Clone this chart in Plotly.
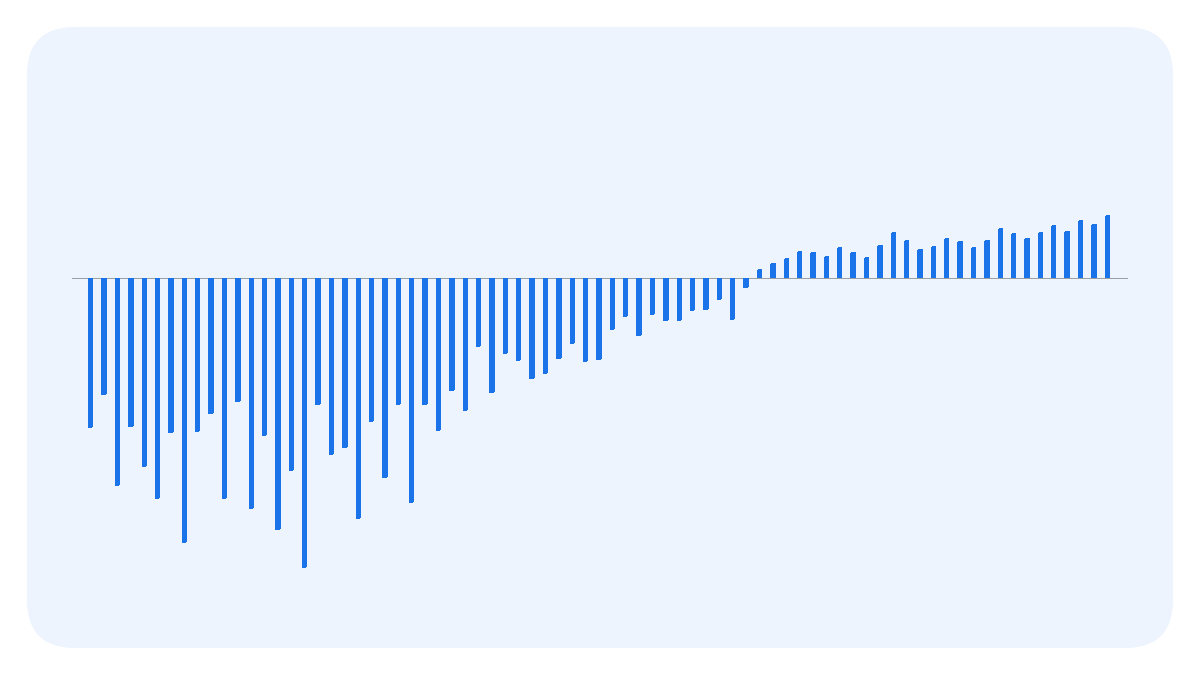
import plotly.graph_objects as go

# bar values (in baseline-relative units)
depths = [150, 117, 208, 149, 189, 221, 155, 265, 154, 136,
          221, 124, 231, 158, 252, 193, 290, 127, 177, 170,
          241, 144, 200, 127, 225, 127, 153, 113, 133, 69,
          115, 76, 83, 101, 96, 81, 66, 84, 82, 52,
          39, 58, 37, 43, 43, 33, 32, 22, 42, 10]
heights = [9, 15, 20, 27, 26, 22, 31, 26, 21, 33,
           46, 38, 29, 32, 40, 37, 31, 38, 50, 45,
           40, 46, 53, 47, 58, 54, 63]

values = [-d for d in depths] + heights
idx = list(range(1, len(values) + 1))

# the page puts the figure 8px in from the top-left corner
W, H = 1200, 675
ml, mr, mt, mb = 64, 80, 32, 48
pw, ph = W - ml - mr, H - mt - mb

fig = go.Figure(go.Bar(
    x=idx, y=values,
    width=0.4,
    marker=dict(color="#1A73E8", line=dict(width=0), cornerradius=2.5),
    hoverinfo="skip",
))

# rounded card behind the plot, in paper coords
def px(x):
    return (x - ml) / pw

def py(y):
    return (H - mb - y) / ph

cx0, cx1, cy0, cy1, r = 19, 1165, 19, 640, 48
path = (
    f"M {px(cx0 + r)} {py(cy0)} L {px(cx1 - r)} {py(cy0)} "
    f"Q {px(cx1)} {py(cy0)} {px(cx1)} {py(cy0 + r)} "
    f"L {px(cx1)} {py(cy1 - r)} "
    f"Q {px(cx1)} {py(cy1)} {px(cx1 - r)} {py(cy1)} "
    f"L {px(cx0 + r)} {py(cy1)} "
    f"Q {px(cx0)} {py(cy1)} {px(cx0)} {py(cy1 - r)} "
    f"L {px(cx0)} {py(cy0 + r)} "
    f"Q {px(cx0)} {py(cy0)} {px(cx0 + r)} {py(cy0)} Z"
)

fig.update_layout(
    width=W, height=H,
    margin=dict(l=ml, r=mr, t=mt, b=mb),
    paper_bgcolor="white",
    plot_bgcolor="rgba(0,0,0,0)",
    showlegend=False,
    bargap=0,
    shapes=[dict(type="path", xref="paper", yref="paper", path=path,
                 fillcolor="#EDF4FE", line=dict(width=0), layer="below")],
    xaxis=dict(range=[-0.4, 78.55], visible=False, showgrid=False,
               zeroline=False, fixedrange=True),
    yaxis=dict(range=[-356.7, 238.3], showgrid=False, zeroline=True,
               zerolinecolor="#9AA0A6", zerolinewidth=1,
               showticklabels=False, ticks="", fixedrange=True),
)

fig.write_html("out.html", config={"displayModeBar": False})
